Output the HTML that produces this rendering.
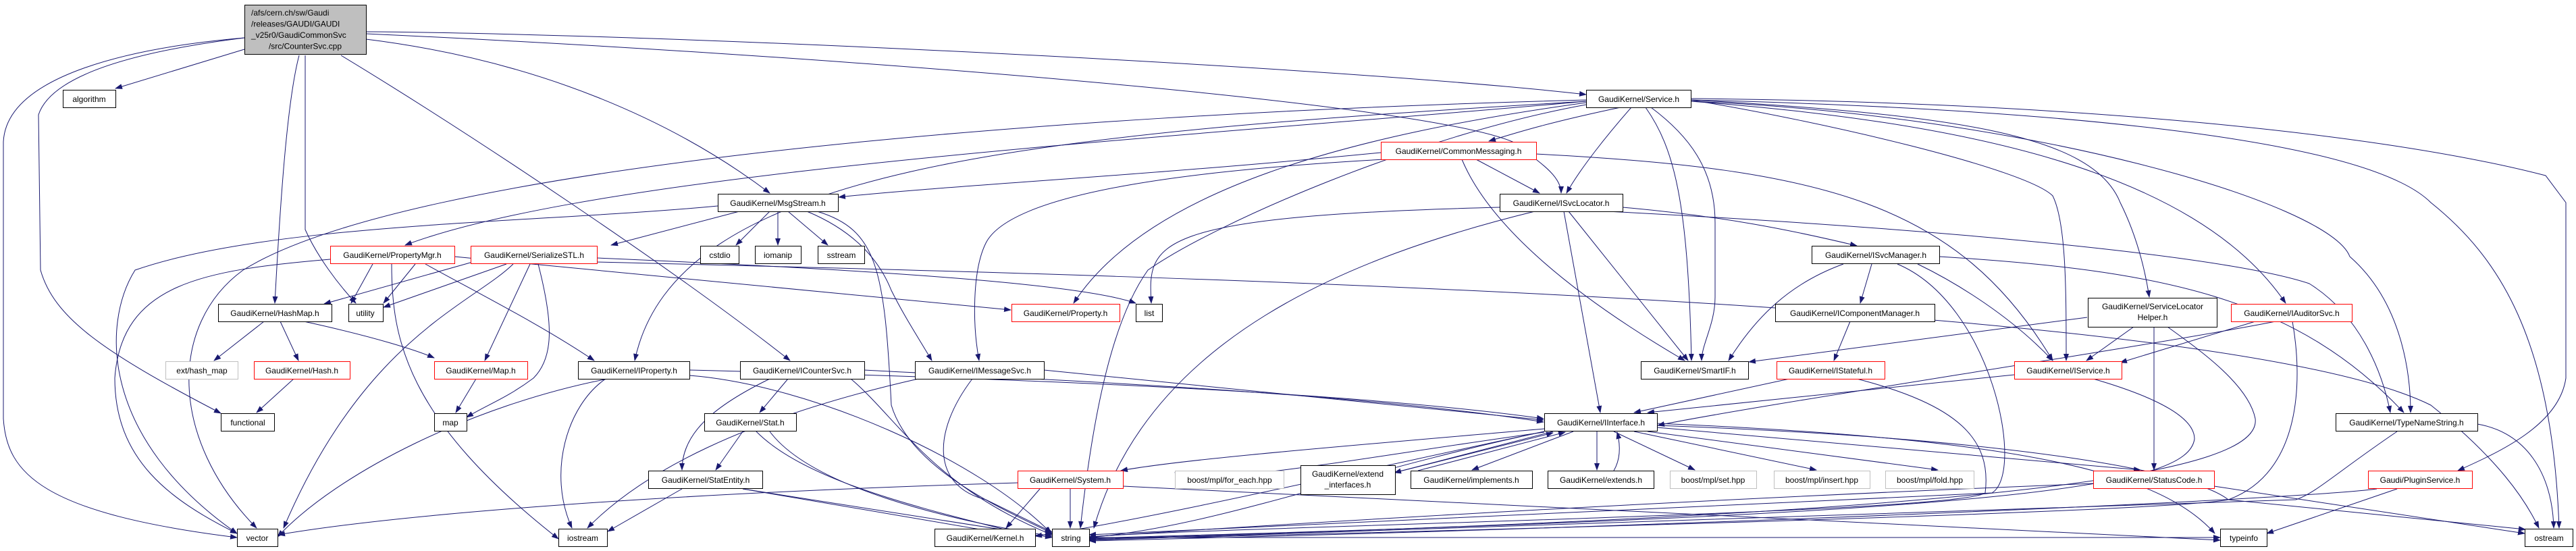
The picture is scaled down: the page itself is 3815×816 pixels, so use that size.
<!DOCTYPE html>
<html><head><meta charset="utf-8"><style>
html,body{margin:0;padding:0;background:#fff;}
svg{display:block;}
text{font-family:"Liberation Sans",sans-serif;font-size:12px;fill:#000;}
.e{fill:none;stroke:#191970;stroke-width:1;}
.b{fill:#fff;stroke:#000;stroke-width:1;}
.r{fill:#fff;stroke:#ff0000;stroke-width:1;}
.g{fill:#fff;stroke:#bfbfbf;stroke-width:1;}
</style></head><body>
<svg width="3815" height="816" viewBox="0 0 3815 816" xmlns="http://www.w3.org/2000/svg">
<defs><marker id="a" markerWidth="11" markerHeight="8" refX="10" refY="4" orient="auto" markerUnits="userSpaceOnUse"><path d="M0,0 L11,4 L0,8 z" fill="#191970"/></marker></defs>
<g class="e" marker-end="url(#a)">
<path d="M362,73 L171,131"/>
<path d="M362,56 C200,70 10,110 5,210 L5,620 C10,700 60,760 351,796"/>
<path d="M362,56 C250,70 80,100 57,170 L60,400 C80,470 150,520 327,612"/>
<path d="M443,82 C425,150 415,300 407,449"/>
<path d="M452,82 L452,340 C470,380 500,420 527,449"/>
<path d="M542,47 C1000,50 2000,100 2349,140"/>
<path d="M542,50 C1200,80 2100,150 2240,210 C2280,240 2312,260 2312,286"/>
<path d="M542,58 C800,90 1000,180 1140,286"/>
<path d="M505,82 C700,200 1000,400 1170,534"/>
<path d="M2400,159 C2300,180 2250,195 2205,209"/>
<path d="M2416,159 C2380,200 2340,250 2320,286"/>
<path d="M2437,159 C2480,220 2500,300 2505,534"/>
<path d="M2445,159 C2500,200 2540,250 2540,330 L2540,440 C2540,480 2520,510 2520,534"/>
<path d="M2504,148 C2700,180 3000,250 3040,290 C3060,330 3060,430 3060,534"/>
<path d="M2504,148 C2900,170 3100,200 3140,300 C3170,360 3180,420 3183,440"/>
<path d="M2504,150 C2900,180 3250,250 3385,449"/>
<path d="M2504,150 C3000,170 3450,300 3480,380 C3560,450 3570,560 3570,611"/>
<path d="M2504,146 C3000,150 3500,190 3770,260 L3800,300 L3800,560 C3790,630 3700,670 3640,697"/>
<path d="M2504,148 C3000,160 3500,200 3600,300 C3700,380 3780,500 3790,782"/>
<path d="M2349,150 C1800,200 900,250 600,363"/>
<path d="M2349,152 C2000,200 1700,280 1590,449"/>
<path d="M2349,150 C1500,200 1000,250 940,534"/>
<path d="M2349,148 C1500,170 600,250 360,400 C250,480 250,650 380,782"/>
<path d="M2349,155 C2100,200 1800,330 1700,400 C1650,470 1620,600 1600,782"/>
<path d="M2045,226 C1700,260 1400,275 1242,292"/>
<path d="M2186,236 L2280,286"/>
<path d="M2165,236 C2200,320 2300,420 2495,534"/>
<path d="M2275,228 C2700,250 2900,300 3040,534"/>
<path d="M2050,236 C1800,250 1500,280 1460,360 C1440,400 1440,480 1450,534"/>
<path d="M1063,305 C800,330 400,330 200,400 C150,480 150,650 351,790"/>
<path d="M1095,313 L905,363"/>
<path d="M1140,313 L1090,363"/>
<path d="M1152,313 L1152,363"/>
<path d="M1167,313 L1226,363"/>
<path d="M1195,313 C1260,340 1300,380 1320,430 C1340,470 1360,500 1380,534"/>
<path d="M1210,313 C1300,340 1310,400 1320,600 C1350,700 1500,760 1558,790"/>
<path d="M2221,307 C1700,320 1700,360 1705,449"/>
<path d="M2403,307 C2550,320 2650,340 2750,364"/>
<path d="M2323,313 L2500,534"/>
<path d="M2316,313 L2370,611"/>
<path d="M2273,313 C2000,380 1700,500 1620,782"/>
<path d="M2380,313 C2900,340 3300,380 3420,420 C3500,470 3530,560 3540,611"/>
<path d="M2772,391 L2755,449"/>
<path d="M2840,391 C2900,420 2980,470 3040,534"/>
<path d="M2810,391 C2950,450 3000,700 2950,730 L1613,792"/>
<path d="M2872,380 C3200,400 3400,440 3560,611"/>
<path d="M2730,391 C2650,420 2600,470 2560,534"/>
<path d="M2740,476 L2716,534"/>
<path d="M2650,561 L2420,611"/>
<path d="M2750,561 C2900,600 2950,650 2940,730 C2900,760 1800,780 1613,795"/>
<path d="M2983,555 L2440,611"/>
<path d="M3100,561 C3200,590 3250,620 3250,650 C3240,720 3000,760 1613,797"/>
<path d="M3091,470 L2590,536"/>
<path d="M3160,484 L3090,534"/>
<path d="M3190,484 L3190,696"/>
<path d="M3210,484 C3260,520 3330,570 3340,620 C3350,700 3000,760 1613,798"/>
<path d="M3340,476 L3140,537"/>
<path d="M3370,476 C3200,510 2600,600 2455,630"/>
<path d="M3395,476 C3410,560 3410,700 3300,740 C3200,760 2000,790 1613,799"/>
<path d="M3550,639 C3460,700 3430,730 3400,740 L1613,800"/>
<path d="M3669,628 C3740,640 3780,700 3782,782"/>
<path d="M3550,724 L3357,790"/>
<path d="M3520,724 C3400,740 2500,780 1613,801"/>
<path d="M552,391 L520,449"/>
<path d="M615,391 L568,449"/>
<path d="M489,384 C300,400 180,420 170,560 C170,680 250,740 351,790"/>
<path d="M673,380 L1497,459"/>
<path d="M630,391 C700,430 800,480 880,534"/>
<path d="M580,391 C580,500 600,620 827,798"/>
<path d="M750,391 L568,455"/>
<path d="M760,391 C700,450 540,500 420,782"/>
<path d="M785,391 L718,534"/>
<path d="M797,391 C820,480 820,530 790,560 C750,590 720,600 691,618"/>
<path d="M884,382 C1300,400 1600,420 1682,449"/>
<path d="M884,388 C1800,410 3300,450 3600,600 C3700,680 3740,740 3760,782"/>
<path d="M700,388 L480,450"/>
<path d="M391,476 L317,534"/>
<path d="M415,476 L442,534"/>
<path d="M450,476 C560,500 620,520 643,530"/>
<path d="M435,561 L380,611"/>
<path d="M705,561 L675,611"/>
<path d="M1021,548 C1500,560 2000,580 2286,620"/>
<path d="M900,561 C700,600 500,700 411,795"/>
<path d="M897,561 C840,600 810,700 847,782"/>
<path d="M1021,556 C1200,570 1450,680 1557,790"/>
<path d="M1546,548 L2286,622"/>
<path d="M1440,561 C1380,640 1380,720 1460,740 L1558,788"/>
<path d="M1360,561 C1100,620 950,700 870,782"/>
<path d="M1280,548 C1500,560 2000,580 2286,625"/>
<path d="M1167,561 L1125,611"/>
<path d="M1140,561 C1060,600 1010,640 1010,696"/>
<path d="M1260,561 C1330,620 1380,720 1558,792"/>
<path d="M1100,639 L1060,696"/>
<path d="M1120,639 C1200,720 1400,760 1533,796"/>
<path d="M1140,639 C1200,720 1400,770 1558,794"/>
<path d="M1010,724 L900,787"/>
<path d="M1100,724 L1558,796"/>
<path d="M1100,724 L1533,798"/>
<path d="M2287,635 C2000,660 1750,680 1660,697"/>
<path d="M2300,639 L2065,700"/>
<path d="M2330,639 L2180,696"/>
<path d="M2365,639 L2365,696"/>
<path d="M2390,639 L2510,696"/>
<path d="M2420,639 L2690,696"/>
<path d="M2440,639 L2870,696"/>
<path d="M2454,633 L3170,696"/>
<path d="M2454,630 C3000,650 3250,700 3300,740 L3740,784"/>
<path d="M2454,627 C3000,650 3200,700 3280,790"/>
<path d="M2287,640 C2000,680 1800,720 1740,700"/>
<path d="M2287,639 C2000,700 1800,780 1613,796"/>
<path d="M2287,639 C2000,700 1700,770 1533,794"/>
<path d="M2100,697 L2318,640"/>
<path d="M2390,697 C2400,680 2400,660 2395,640"/>
<path d="M2065,700 L2300,641"/>
<path d="M1585,724 L1585,782"/>
<path d="M1540,724 L1490,782"/>
<path d="M1507,715 C1000,730 600,760 412,792"/>
<path d="M1663,720 L3288,800"/>
<path d="M3100,716 C2500,740 2000,770 1613,795"/>
<path d="M3279,720 L3739,790"/>
<path d="M1613,796 L3288,796"/>
</g>
<rect x="362.5" y="7.5" width="180" height="73" fill="#bfbfbf" stroke="#000"/>
<text x="372" y="23">/afs/cern.ch/sw/Gaudi</text>
<text x="372" y="39.5">/releases/GAUDI/GAUDI</text>
<text x="372" y="56">_v25r0/GaudiCommonSvc</text>
<text x="452" y="72.5" text-anchor="middle">/src/CounterSvc.cpp</text>
<g text-anchor="middle">
<rect class="b" x="93.5" y="133.5" width="78" height="26"/><text x="132" y="151">algorithm</text>
<rect class="b" x="323.5" y="450.5" width="168" height="26"/><text x="407" y="468">GaudiKernel/HashMap.h</text>
<rect class="b" x="516.5" y="450.5" width="51" height="26"/><text x="541" y="468">utility</text>
<rect class="r" x="489.5" y="364.5" width="184" height="26"/><text x="581" y="382">GaudiKernel/PropertyMgr.h</text>
<rect class="g" x="245.5" y="535.5" width="107" height="26"/><text x="299" y="553">ext/hash_map</text>
<rect class="r" x="376.5" y="535.5" width="142" height="26"/><text x="447" y="553">GaudiKernel/Hash.h</text>
<rect class="b" x="327.5" y="612.5" width="79" height="26"/><text x="367" y="630">functional</text>
<rect class="b" x="351.5" y="783.5" width="60" height="26"/><text x="381" y="801">vector</text>
<rect class="b" x="1063.5" y="287.5" width="178" height="26"/><text x="1152" y="305">GaudiKernel/MsgStream.h</text>
<rect class="r" x="697.5" y="364.5" width="187" height="26"/><text x="791" y="382">GaudiKernel/SerializeSTL.h</text>
<rect class="b" x="1037.5" y="364.5" width="57" height="26"/><text x="1066" y="382">cstdio</text>
<rect class="b" x="1118.5" y="364.5" width="68" height="26"/><text x="1152" y="382">iomanip</text>
<rect class="b" x="1211.5" y="364.5" width="69" height="26"/><text x="1246" y="382">sstream</text>
<rect class="r" x="643.5" y="535.5" width="138" height="26"/><text x="712" y="553">GaudiKernel/Map.h</text>
<rect class="b" x="856.5" y="535.5" width="165" height="26"/><text x="939" y="553">GaudiKernel/IProperty.h</text>
<rect class="b" x="1096.5" y="535.5" width="184" height="26"/><text x="1188" y="553">GaudiKernel/ICounterSvc.h</text>
<rect class="b" x="643.5" y="612.5" width="48" height="26"/><text x="667" y="630">map</text>
<rect class="b" x="1043.5" y="612.5" width="136" height="26"/><text x="1111" y="630">GaudiKernel/Stat.h</text>
<rect class="b" x="960.5" y="697.5" width="169" height="26"/><text x="1045" y="715">GaudiKernel/StatEntity.h</text>
<rect class="b" x="827.5" y="783.5" width="72" height="26"/><text x="863" y="801">iostream</text>
<rect class="r" x="1498.5" y="450.5" width="160" height="26"/><text x="1578" y="468">GaudiKernel/Property.h</text>
<rect class="b" x="1682.5" y="450.5" width="39" height="26"/><text x="1702" y="468">list</text>
<rect class="b" x="1355.5" y="535.5" width="191" height="26"/><text x="1451" y="553">GaudiKernel/IMessageSvc.h</text>
<rect class="r" x="1507.5" y="697.5" width="156" height="26"/><text x="1585" y="715">GaudiKernel/System.h</text>
<rect class="g" x="1740.5" y="697.5" width="161" height="26"/><text x="1821" y="715">boost/mpl/for_each.hpp</text>
<rect class="b" x="1384.5" y="783.5" width="149" height="26"/><text x="1459" y="801">GaudiKernel/Kernel.h</text>
<rect class="b" x="1558.5" y="783.5" width="55" height="26"/><text x="1586" y="801">string</text>
<rect class="b" x="2349.5" y="133.5" width="155" height="26"/><text x="2427" y="151">GaudiKernel/Service.h</text>
<rect class="r" x="2045.5" y="210.5" width="230" height="26"/><text x="2160" y="228">GaudiKernel/CommonMessaging.h</text>
<rect class="b" x="2221.5" y="287.5" width="182" height="26"/><text x="2312" y="305">GaudiKernel/ISvcLocator.h</text>
<rect class="b" x="2430.5" y="535.5" width="159" height="26"/><text x="2510" y="553">GaudiKernel/SmartIF.h</text>
<rect class="b" x="2287.5" y="612.5" width="167" height="26"/><text x="2371" y="630">GaudiKernel/IInterface.h</text>
<rect class="b" x="1926.5" y="689.5" width="140" height="43"/><text x="1996" y="706">GaudiKernel/extend</text><text x="1996" y="722">_interfaces.h</text>
<rect class="b" x="2089.5" y="697.5" width="180" height="26"/><text x="2179" y="715">GaudiKernel/implements.h</text>
<rect class="b" x="2292.5" y="697.5" width="157" height="26"/><text x="2371" y="715">GaudiKernel/extends.h</text>
<rect class="g" x="2473.5" y="697.5" width="128" height="26"/><text x="2537" y="715">boost/mpl/set.hpp</text>
<rect class="b" x="2683.5" y="364.5" width="189" height="26"/><text x="2778" y="382">GaudiKernel/ISvcManager.h</text>
<rect class="b" x="2629.5" y="450.5" width="236" height="26"/><text x="2747" y="468">GaudiKernel/IComponentManager.h</text>
<rect class="r" x="2631.5" y="535.5" width="160" height="26"/><text x="2711" y="553">GaudiKernel/IStateful.h</text>
<rect class="r" x="2983.5" y="535.5" width="159" height="26"/><text x="3063" y="553">GaudiKernel/IService.h</text>
<rect class="b" x="3092.5" y="441.5" width="191" height="43"/><text x="3188" y="458">GaudiKernel/ServiceLocator</text><text x="3188" y="474">Helper.h</text>
<rect class="g" x="2627.5" y="697.5" width="142" height="26"/><text x="2698" y="715">boost/mpl/insert.hpp</text>
<rect class="g" x="2792.5" y="697.5" width="131" height="26"/><text x="2858" y="715">boost/mpl/fold.hpp</text>
<rect class="r" x="3100.5" y="697.5" width="179" height="26"/><text x="3190" y="715">GaudiKernel/StatusCode.h</text>
<rect class="r" x="3304.5" y="450.5" width="179" height="26"/><text x="3394" y="468">GaudiKernel/IAuditorSvc.h</text>
<rect class="b" x="3459.5" y="612.5" width="210" height="26"/><text x="3564" y="630">GaudiKernel/TypeNameString.h</text>
<rect class="r" x="3507.5" y="697.5" width="154" height="26"/><text x="3584" y="715">Gaudi/PluginService.h</text>
<rect class="b" x="3288.5" y="783.5" width="69" height="26"/><text x="3323" y="801">typeinfo</text>
<rect class="b" x="3739.5" y="783.5" width="71" height="26"/><text x="3775" y="801">ostream</text>
</g>
</svg>
</body></html>
